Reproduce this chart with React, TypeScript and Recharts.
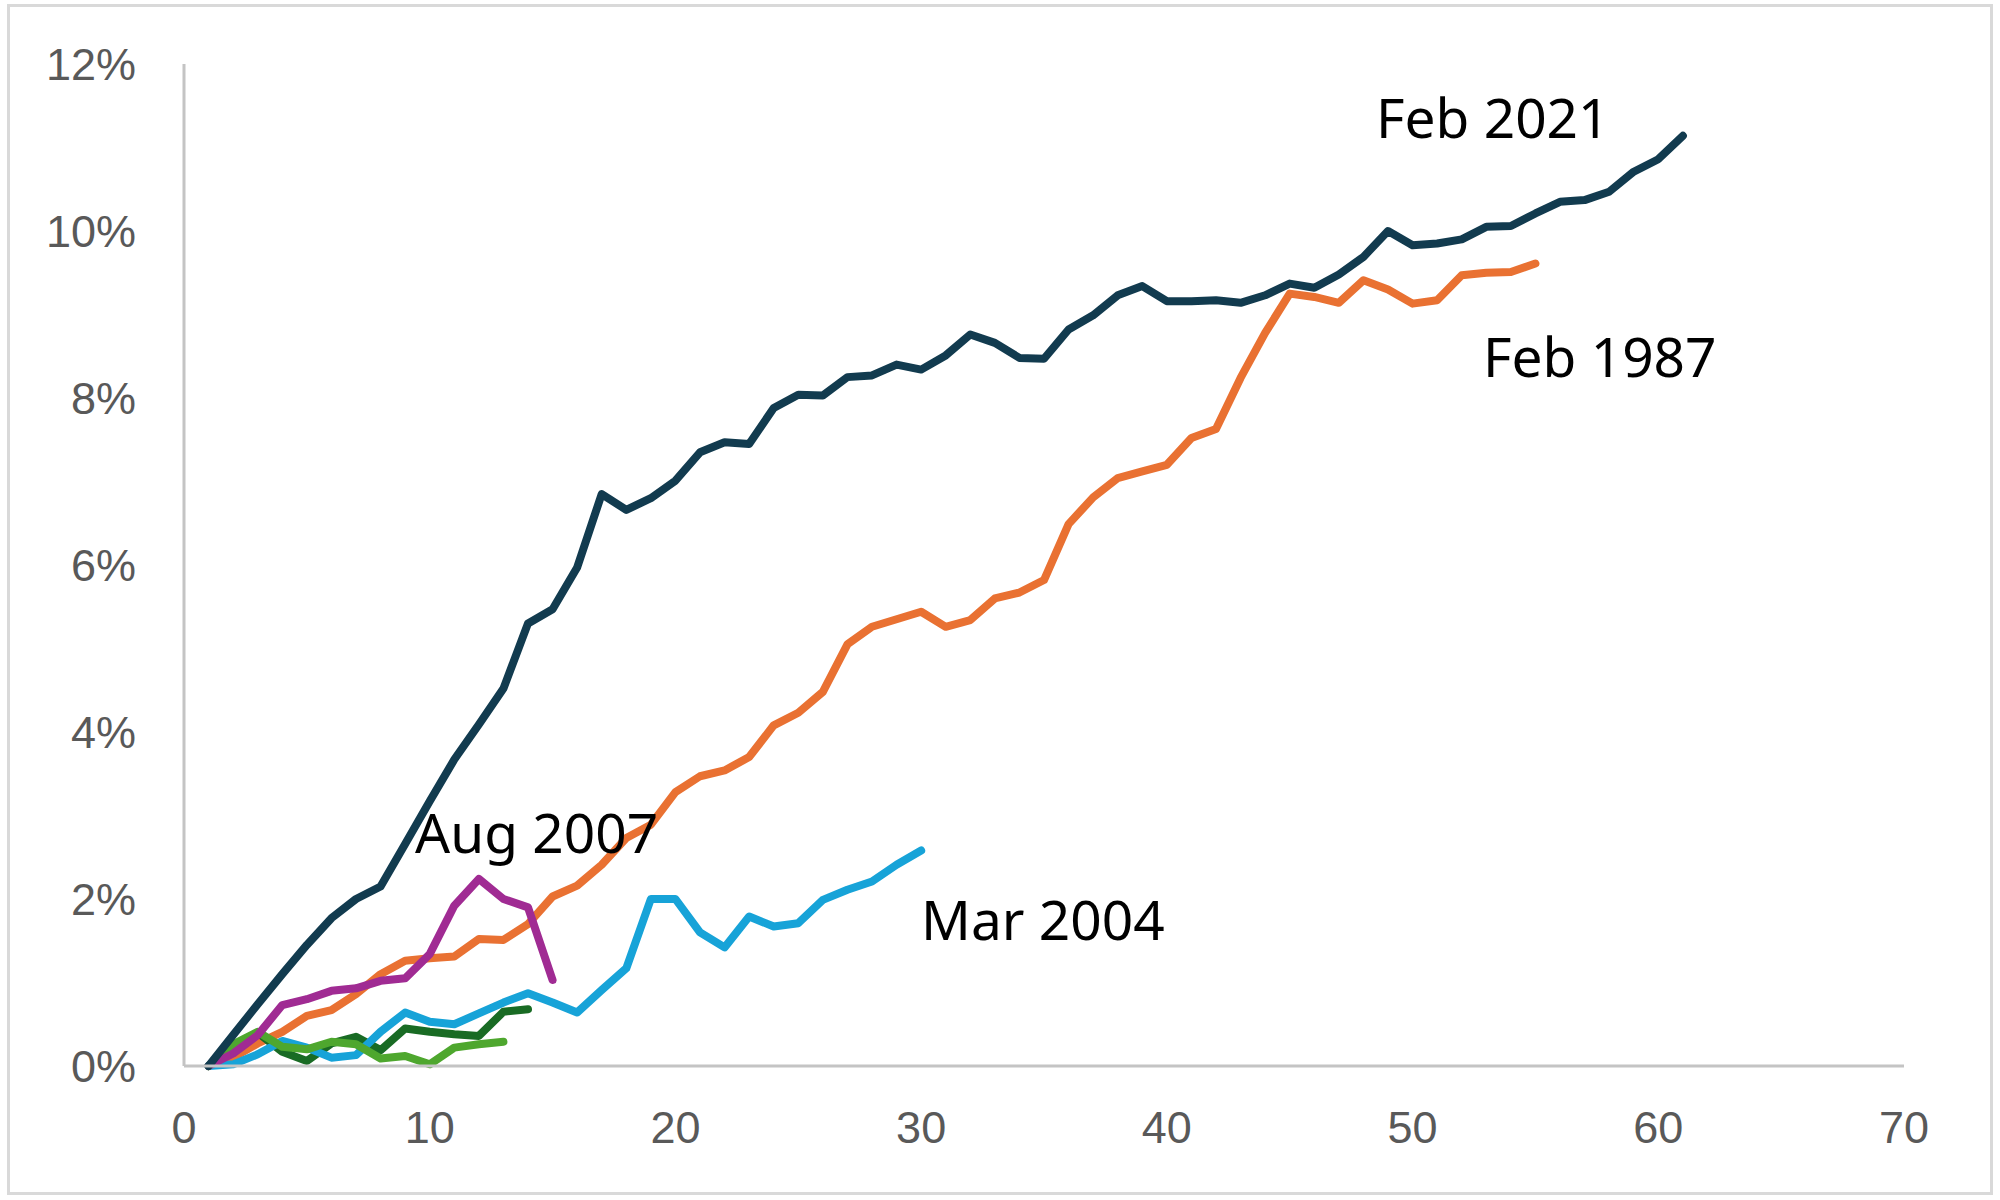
import React from "react";
import { LineChart, Line, XAxis, YAxis } from "recharts";

const months = Array.from({ length: 61 }, (_, i) => i + 1);

const feb2021 = [0, 0.37, 0.74, 1.1, 1.45, 1.77, 2.0, 2.15, 2.66, 3.17, 3.67, 4.09, 4.52, 5.3, 5.47, 5.97, 6.85, 6.66, 6.8, 7.01, 7.35, 7.47, 7.45, 7.88, 8.04, 8.03, 8.25, 8.27, 8.4, 8.34, 8.51, 8.76, 8.66, 8.48, 8.47, 8.82, 8.99, 9.23, 9.34, 9.16, 9.16, 9.17, 9.14, 9.23, 9.37, 9.32, 9.48, 9.69, 10.0, 9.83, 9.85, 9.9, 10.05, 10.06, 10.21, 10.35, 10.37, 10.47, 10.71, 10.86, 11.14];
const feb1987 = [0, 0.1, 0.27, 0.41, 0.6, 0.67, 0.86, 1.1, 1.26, 1.29, 1.31, 1.52, 1.51, 1.7, 2.03, 2.16, 2.41, 2.73, 2.89, 3.28, 3.47, 3.54, 3.7, 4.08, 4.23, 4.48, 5.05, 5.26, 5.35, 5.44, 5.26, 5.34, 5.6, 5.67, 5.82, 6.49, 6.81, 7.04, 7.12, 7.2, 7.52, 7.63, 8.24, 8.78, 9.25, 9.21, 9.14, 9.41, 9.3, 9.13, 9.17, 9.47, 9.5, 9.51, 9.61];
const mar2004 = [0, 0.02, 0.14, 0.3, 0.22, 0.1, 0.13, 0.41, 0.64, 0.53, 0.5, 0.63, 0.76, 0.87, 0.76, 0.64, 0.91, 1.17, 2.0, 2.0, 1.6, 1.42, 1.79, 1.67, 1.71, 1.99, 2.11, 2.21, 2.41, 2.58];
const aug2007 = [0, 0.15, 0.37, 0.73, 0.8, 0.9, 0.93, 1.02, 1.05, 1.34, 1.92, 2.24, 2.0, 1.9, 1.03];
const darkGreen = [0, 0.17, 0.4, 0.17, 0.06, 0.27, 0.35, 0.19, 0.45, 0.41, 0.38, 0.36, 0.65, 0.68];
const lightGreen = [0, 0.26, 0.41, 0.23, 0.2, 0.29, 0.26, 0.09, 0.12, 0.02, 0.22, 0.26, 0.29];

const xTicks = [0, 10, 20, 30, 40, 50, 60, 70];
const yTicks = [0, 2, 4, 6, 8, 10, 12];

const labels = [
  { text: "Feb 2021", x: 1376, y: 138 },
  { text: "Feb 1987", x: 1483, y: 377 },
  { text: "Aug 2007", x: 415, y: 853 },
  { text: "Mar 2004", x: 921, y: 940 },
];

const data = months.map((m, i) => ({
  x: m,
  feb2021: feb2021[i],
  feb1987: feb1987[i],
  mar2004: mar2004[i],
  aug2007: aug2007[i],
  darkGreen: darkGreen[i],
  lightGreen: lightGreen[i],
}));

const tickFont = "'Liberation Sans', Arial, sans-serif";

const YTick = (props: any) => (
  <text x={props.x - 48} y={props.y + 16} textAnchor="end" fontSize={45} fill="#595959" fontFamily={tickFont}>
    {`${props.payload.value}%`}
  </text>
);

const XTick = (props: any) => (
  <text x={props.x} y={props.y + 77} textAnchor="middle" fontSize={45} fill="#595959" fontFamily={tickFont}>
    {props.payload.value}
  </text>
);

const W = 8;

export default function App() {
  return (
    <div style={{ position: "absolute", left: 0, top: 0, width: 2000, height: 1200, background: "#fff" }}>
      <div
        style={{
          position: "absolute",
          left: 7,
          top: 4,
          width: 1986,
          height: 1191,
          border: "3px solid #d9d9d9",
          boxSizing: "border-box",
        }}
      />
      <div style={{ position: "absolute", left: 0, top: 0 }}>
        <LineChart width={2000} height={1200} data={data} margin={{ top: 64, right: 96, bottom: 74, left: 0 }}>
          <XAxis
            dataKey="x"
            type="number"
            domain={[0, 70]}
            ticks={xTicks}
            interval={0}
            height={60}
            tickLine={false}
            tickSize={0}
            tickMargin={0}
            axisLine={{ stroke: "#c4c4c4", strokeWidth: 3 }}
            tick={<XTick />}
          />
          <YAxis
            type="number"
            domain={[0, 12]}
            ticks={yTicks}
            interval={0}
            width={184}
            tickLine={false}
            tickSize={0}
            tickMargin={0}
            axisLine={{ stroke: "#c4c4c4", strokeWidth: 3 }}
            tick={<YTick />}
          />
          <Line type="linear" dataKey="feb1987" stroke="#E97132" strokeWidth={W} strokeLinecap="round" strokeLinejoin="round" dot={false} activeDot={false} isAnimationActive={false} />
          <Line type="linear" dataKey="darkGreen" stroke="#196B24" strokeWidth={W} strokeLinecap="round" strokeLinejoin="round" dot={false} activeDot={false} isAnimationActive={false} />
          <Line type="linear" dataKey="mar2004" stroke="#17A3D8" strokeWidth={W} strokeLinecap="round" strokeLinejoin="round" dot={false} activeDot={false} isAnimationActive={false} />
          <Line type="linear" dataKey="lightGreen" stroke="#4EA72E" strokeWidth={W} strokeLinecap="round" strokeLinejoin="round" dot={false} activeDot={false} isAnimationActive={false} />
          <Line type="linear" dataKey="aug2007" stroke="#A02B93" strokeWidth={W} strokeLinecap="round" strokeLinejoin="round" dot={false} activeDot={false} isAnimationActive={false} />
          <Line type="linear" dataKey="feb2021" stroke="#123B4F" strokeWidth={W} strokeLinecap="round" strokeLinejoin="round" dot={false} activeDot={false} isAnimationActive={false} />
        </LineChart>
      </div>
      <svg width={2000} height={1200} style={{ position: "absolute", left: 0, top: 0, pointerEvents: "none" }}>
        {labels.map((l) => (
          <text key={l.text} x={l.x} y={l.y} fontSize={55} fill="#000" fontFamily="'Noto Sans', 'Liberation Sans', sans-serif">
            {l.text}
          </text>
        ))}
      </svg>
    </div>
  );
}
